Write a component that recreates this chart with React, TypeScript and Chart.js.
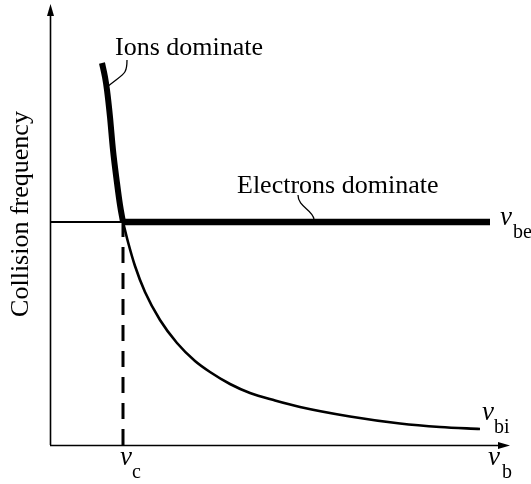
import React, { useEffect, useRef } from "react";
import { Chart, registerables } from "chart.js";

Chart.register(...registerables);

// Ion collision frequency (steep branch where ions dominate)
const ionsDominateX = [52, 55, 57, 60, 63, 67, 70, 73];
const ionsDominateY = [382, 368, 355, 328, 295, 262, 240, 223];
// Ion collision frequency beyond crossover
const ionTailX = [73, 78, 85, 95, 110, 127, 145, 160, 180, 200, 225, 250, 300, 350, 390, 430];
const ionTailY = [223, 203, 179, 153, 125, 102, 84, 73, 61, 52, 44.5, 38, 28.5, 21.5, 18, 16];
// Electron collision frequency (constant)
const electronLevel = 223;
const crossoverX = 73;
const electronEndX = 440;
const axisMaxX = 460;
const axisMaxY = 440;

const SERIF = '"Liberation Serif", "Times New Roman", serif';

const pts = (xs: number[], ys: number[]) => xs.map((x, i) => ({ x, y: ys[i] }));

const annotations = {
  id: "annotations",
  beforeDatasetsDraw(chart: any) {
    const { ctx, chartArea } = chart;
    const { left, right, top, bottom } = chartArea;
    ctx.save();
    ctx.strokeStyle = "#000";
    ctx.fillStyle = "#000";
    ctx.lineWidth = 1.6;
    ctx.beginPath();
    ctx.moveTo(left + 0.5, bottom);
    ctx.lineTo(left + 0.5, top + 8);
    ctx.stroke();
    ctx.beginPath();
    ctx.moveTo(left + 0.5, top - 1);
    ctx.lineTo(left - 3, top + 11);
    ctx.lineTo(left + 4, top + 11);
    ctx.closePath();
    ctx.fill();
    ctx.beginPath();
    ctx.moveTo(left, bottom + 0.5);
    ctx.lineTo(right - 8, bottom + 0.5);
    ctx.stroke();
    ctx.beginPath();
    ctx.moveTo(right, bottom + 0.5);
    ctx.lineTo(right - 12, bottom - 3);
    ctx.lineTo(right - 12, bottom + 4);
    ctx.closePath();
    ctx.fill();
    ctx.restore();
  },
  afterDatasetsDraw(chart: any) {
    const { ctx, scales } = chart;
    const X = (v: number) => scales.x.getPixelForValue(v);
    const Y = (v: number) => scales.y.getPixelForValue(v);
    ctx.save();
    ctx.fillStyle = "#000";
    ctx.strokeStyle = "#000";
    ctx.textBaseline = "alphabetic";
    ctx.textAlign = "left";
    ctx.font = `26px ${SERIF}`;
    ctx.fillText("Ions dominate", X(65), Y(390));
    ctx.fillText("Electrons dominate", X(187), Y(252));

    ctx.lineWidth = 1.3;
    ctx.beginPath();
    ctx.moveTo(X(77), Y(385));
    ctx.bezierCurveTo(X(77), Y(370), X(74), Y(372), X(57), Y(358));
    ctx.stroke();
    ctx.beginPath();
    ctx.moveTo(X(248), Y(250));
    ctx.bezierCurveTo(X(248), Y(238), X(262), Y(236), X(264), Y(226));
    ctx.stroke();

    ctx.save();
    ctx.translate(28, 214);
    ctx.rotate(-Math.PI / 2);
    ctx.textAlign = "center";
    ctx.font = `26px ${SERIF}`;
    ctx.fillText("Collision frequency", 0, 0);
    ctx.restore();

    const sym = (x: number, y: number, sub: string, sx: number, sy: number) => {
      ctx.font = `italic 27px ${SERIF}`;
      ctx.fillText("v", x, y);
      ctx.font = `20px ${SERIF}`;
      ctx.fillText(sub, sx, sy);
    };
    sym(X(450), Y(220), "be", X(463), Y(207));
    sym(X(432), Y(25), "bi", X(444), Y(12));
    sym(X(70), Y(-20), "c", X(82), Y(-33));
    sym(X(438), Y(-20), "b", X(452), Y(-33));
    ctx.restore();
  },
};

export default function App() {
  const ref = useRef<HTMLCanvasElement>(null);
  useEffect(() => {
    if (!ref.current) return;
    const chart = new Chart(ref.current, {
      type: "scatter",
      data: {
        datasets: [
          {
            data: pts([0, crossoverX], [electronLevel, electronLevel]),
            borderColor: "#000",
            borderWidth: 2,
            showLine: true,
            pointRadius: 0,
          },
          {
            data: pts([crossoverX, electronEndX], [electronLevel, electronLevel]),
            borderColor: "#000",
            borderWidth: 6.5,
            showLine: true,
            pointRadius: 0,
            borderCapStyle: "butt",
          },
          {
            data: pts([crossoverX, crossoverX], [0, electronLevel]),
            borderColor: "#000",
            borderWidth: 3,
            borderDash: [16, 10],
            showLine: true,
            pointRadius: 0,
          },
          {
            data: pts(ionTailX, ionTailY),
            borderColor: "#000",
            borderWidth: 2.6,
            showLine: true,
            pointRadius: 0,
            cubicInterpolationMode: "monotone",
          },
          {
            data: pts(ionsDominateX, ionsDominateY),
            borderColor: "#000",
            borderWidth: 6,
            showLine: true,
            pointRadius: 0,
            cubicInterpolationMode: "monotone",
            borderCapStyle: "butt",
          },
        ],
      } as any,
      options: {
        animation: false,
        responsive: false,
        events: [],
        layout: { padding: { left: 50, right: 21, top: 5, bottom: 39 } },
        plugins: { legend: { display: false }, tooltip: { enabled: false } },
        scales: {
          x: { type: "linear", min: 0, max: axisMaxX, display: false },
          y: { type: "linear", min: 0, max: axisMaxY, display: false },
        },
      } as any,
      plugins: [annotations],
    });
    return () => chart.destroy();
  }, []);
  return (
    <div style={{ position: "absolute", left: 0, top: 0, width: 531, height: 484, background: "#fff" }}>
      <canvas ref={ref} width={531} height={484} style={{ display: "block" }} />
    </div>
  );
}
